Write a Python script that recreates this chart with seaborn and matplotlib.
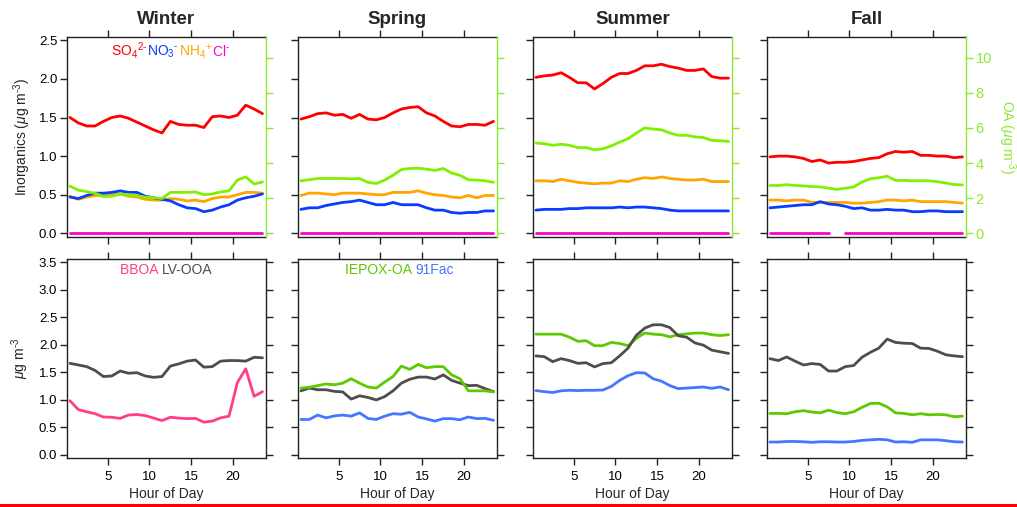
import numpy as np
import matplotlib
matplotlib.use("Agg")
import matplotlib.pyplot as plt
import seaborn as sns
from matplotlib.offsetbox import TextArea, HPacker, AnchoredOffsetbox
from matplotlib.ticker import FormatStrFormatter
from matplotlib.lines import Line2D

sns.set_style("ticks")
plt.rcParams["font.family"] = ["Liberation Sans", "DejaVu Sans"]
plt.rcParams["mathtext.fontset"] = "custom"
plt.rcParams["mathtext.rm"] = "Liberation Sans"
plt.rcParams["mathtext.it"] = "Liberation Sans:italic"
plt.rcParams["mathtext.bf"] = "Liberation Sans:bold"

hours = np.arange(0.5, 24, 1.0)
seasons = ["Winter", "Spring", "Summer", "Fall"]

# ---- inorganic species (ug m-3), left axis ----
so4_winter = [1.50, 1.43, 1.39, 1.39, 1.45, 1.50, 1.52, 1.49, 1.44, 1.39, 1.34, 1.30,
              1.45, 1.41, 1.40, 1.40, 1.37, 1.51, 1.52, 1.50, 1.53, 1.66, 1.61, 1.55]
so4_spring = [1.48, 1.51, 1.55, 1.56, 1.53, 1.54, 1.49, 1.54, 1.48, 1.47, 1.50, 1.56,
              1.61, 1.63, 1.64, 1.56, 1.52, 1.45, 1.39, 1.38, 1.41, 1.41, 1.40, 1.45]
so4_summer = [2.02, 2.04, 2.05, 2.08, 2.02, 1.95, 1.95, 1.87, 1.94, 2.02, 2.07, 2.07,
              2.11, 2.17, 2.17, 2.19, 2.16, 2.14, 2.11, 2.11, 2.13, 2.03, 2.01, 2.01]
so4_fall = [0.99, 1.00, 1.00, 0.99, 0.97, 0.93, 0.95, 0.91, 0.92, 0.92, 0.93, 0.95,
            0.97, 0.98, 1.03, 1.06, 1.05, 1.06, 1.01, 1.01, 1.00, 1.00, 0.98, 0.99]

no3_winter = [0.47, 0.45, 0.49, 0.52, 0.52, 0.53, 0.55, 0.53, 0.53, 0.48, 0.46, 0.44,
              0.42, 0.37, 0.33, 0.32, 0.28, 0.30, 0.34, 0.37, 0.43, 0.46, 0.48, 0.51]
no3_spring = [0.31, 0.33, 0.33, 0.36, 0.38, 0.40, 0.41, 0.43, 0.40, 0.37, 0.37, 0.40,
              0.37, 0.37, 0.37, 0.33, 0.30, 0.30, 0.27, 0.26, 0.27, 0.27, 0.29, 0.29]
no3_summer = [0.30, 0.31, 0.31, 0.31, 0.32, 0.32, 0.33, 0.33, 0.33, 0.33, 0.34, 0.33,
              0.34, 0.34, 0.33, 0.32, 0.30, 0.29, 0.29, 0.29, 0.29, 0.29, 0.29, 0.29]
no3_fall = [0.33, 0.34, 0.35, 0.36, 0.37, 0.37, 0.41, 0.38, 0.37, 0.35, 0.32, 0.33,
            0.30, 0.30, 0.31, 0.30, 0.30, 0.28, 0.28, 0.29, 0.29, 0.28, 0.28, 0.28]

nh4_winter = [0.48, 0.44, 0.47, 0.49, 0.49, 0.50, 0.51, 0.48, 0.47, 0.44, 0.43, 0.43,
              0.45, 0.44, 0.42, 0.43, 0.41, 0.45, 0.47, 0.47, 0.50, 0.53, 0.53, 0.52]
nh4_spring = [0.49, 0.52, 0.52, 0.51, 0.50, 0.52, 0.52, 0.52, 0.51, 0.50, 0.50, 0.53,
              0.53, 0.53, 0.55, 0.52, 0.50, 0.49, 0.47, 0.46, 0.49, 0.46, 0.49, 0.49]
nh4_summer = [0.68, 0.68, 0.67, 0.70, 0.68, 0.66, 0.65, 0.64, 0.65, 0.65, 0.68, 0.67,
              0.70, 0.72, 0.71, 0.73, 0.71, 0.70, 0.69, 0.69, 0.70, 0.67, 0.67, 0.67]
nh4_fall = [0.43, 0.43, 0.42, 0.43, 0.43, 0.40, 0.40, 0.40, 0.40, 0.40, 0.39, 0.39,
            0.40, 0.41, 0.43, 0.43, 0.42, 0.43, 0.41, 0.41, 0.41, 0.41, 0.40, 0.39]

cl_winter = [0.01] * 24
cl_spring = [0.01] * 24
cl_summer = [0.01] * 24
cl_fall = [0.01] * 8 + [np.nan] + [0.01] * 15

# ---- total organic aerosol (ug m-3), right axis ----
oa_winter = [2.68, 2.46, 2.37, 2.28, 2.09, 2.11, 2.22, 2.20, 2.15, 2.06, 2.02, 1.98,
             2.33, 2.33, 2.33, 2.35, 2.20, 2.24, 2.35, 2.42, 3.03, 3.21, 2.81, 2.92]
oa_spring = [2.99, 3.05, 3.12, 3.12, 3.12, 3.12, 3.10, 3.12, 2.90, 2.83, 3.03, 3.30,
             3.63, 3.69, 3.71, 3.65, 3.58, 3.69, 3.43, 3.30, 3.05, 3.03, 2.99, 2.90]
oa_summer = [5.14, 5.10, 5.01, 5.07, 5.01, 4.88, 4.88, 4.75, 4.81, 4.97, 5.19, 5.38,
             5.71, 6.00, 5.93, 5.89, 5.71, 5.58, 5.58, 5.49, 5.45, 5.29, 5.27, 5.23]
oa_fall = [2.72, 2.72, 2.77, 2.72, 2.70, 2.66, 2.64, 2.57, 2.50, 2.57, 2.64, 2.92,
           3.10, 3.16, 3.25, 3.01, 3.01, 2.99, 2.99, 2.99, 2.94, 2.86, 2.77, 2.75]

# ---- PMF factors (ug m-3) ----
bboa_winter = [0.98, 0.82, 0.78, 0.745, 0.685, 0.68, 0.66, 0.72, 0.73, 0.71, 0.665, 0.62,
               0.68, 0.665, 0.655, 0.66, 0.59, 0.61, 0.67, 0.70, 1.31, 1.56, 1.06, 1.145]
lvooa_winter = [1.66, 1.63, 1.60, 1.53, 1.42, 1.43, 1.52, 1.48, 1.49, 1.43, 1.405, 1.42,
                1.61, 1.65, 1.70, 1.72, 1.59, 1.60, 1.70, 1.71, 1.71, 1.70, 1.77, 1.76]
lvooa_spring = [1.16, 1.21, 1.18, 1.18, 1.15, 1.14, 1.01, 1.07, 1.04, 0.995, 1.055, 1.16,
                1.30, 1.37, 1.41, 1.41, 1.375, 1.45, 1.35, 1.30, 1.255, 1.26, 1.20, 1.145]
lvooa_summer = [1.795, 1.78, 1.69, 1.745, 1.71, 1.66, 1.67, 1.595, 1.655, 1.67, 1.795, 1.935,
                2.17, 2.30, 2.36, 2.36, 2.31, 2.16, 2.135, 2.03, 1.99, 1.90, 1.87, 1.84]
lvooa_fall = [1.745, 1.71, 1.775, 1.70, 1.63, 1.655, 1.64, 1.52, 1.52, 1.60, 1.62, 1.77,
              1.86, 1.935, 2.10, 2.04, 2.025, 2.02, 1.935, 1.93, 1.88, 1.815, 1.795, 1.78]
iepox_spring = [1.21, 1.225, 1.255, 1.285, 1.27, 1.30, 1.38, 1.30, 1.23, 1.21, 1.32, 1.42,
                1.61, 1.55, 1.64, 1.58, 1.60, 1.60, 1.45, 1.38, 1.16, 1.16, 1.16, 1.14]
iepox_summer = [2.19, 2.19, 2.19, 2.19, 2.135, 2.06, 2.07, 1.98, 1.98, 2.04, 2.02, 1.98,
                2.115, 2.21, 2.19, 2.18, 2.14, 2.18, 2.195, 2.21, 2.21, 2.18, 2.165, 2.18]
iepox_fall = [0.75, 0.75, 0.745, 0.78, 0.80, 0.775, 0.76, 0.81, 0.765, 0.745, 0.78, 0.86,
              0.93, 0.935, 0.87, 0.76, 0.75, 0.725, 0.745, 0.725, 0.73, 0.725, 0.69, 0.70]
fac91_spring = [0.64, 0.64, 0.72, 0.67, 0.705, 0.72, 0.70, 0.76, 0.66, 0.64, 0.70, 0.745,
                0.735, 0.77, 0.685, 0.65, 0.61, 0.655, 0.655, 0.635, 0.685, 0.655, 0.66, 0.625]
fac91_summer = [1.165, 1.145, 1.13, 1.16, 1.17, 1.165, 1.17, 1.17, 1.175, 1.24, 1.35, 1.435,
                1.49, 1.485, 1.38, 1.335, 1.255, 1.20, 1.21, 1.22, 1.23, 1.205, 1.23, 1.18]
fac91_fall = [0.23, 0.23, 0.24, 0.24, 0.235, 0.225, 0.235, 0.235, 0.23, 0.23, 0.24, 0.26,
              0.27, 0.28, 0.27, 0.23, 0.235, 0.225, 0.27, 0.27, 0.27, 0.255, 0.235, 0.23]

so4 = [so4_winter, so4_spring, so4_summer, so4_fall]
no3 = [no3_winter, no3_spring, no3_summer, no3_fall]
nh4 = [nh4_winter, nh4_spring, nh4_summer, nh4_fall]
cl = [cl_winter, cl_spring, cl_summer, cl_fall]
oa = [oa_winter, oa_spring, oa_summer, oa_fall]

# factor series drawn in each season (name -> values)
factors = [
    {"BBOA": bboa_winter, "LV-OOA": lvooa_winter},
    {"LV-OOA": lvooa_spring, "IEPOX-OA": iepox_spring, "91Fac": fac91_spring},
    {"IEPOX-OA": iepox_summer, "LV-OOA": lvooa_summer, "91Fac": fac91_summer},
    {"LV-OOA": lvooa_fall, "IEPOX-OA": iepox_fall, "91Fac": fac91_fall},
]

C_SO4, C_NO3, C_NH4, C_CL = "#FF0000", "#0A3CFF", "#FFA500", "#FF00CC"
C_OA, C_OA_AX = "#80F000", "#8CE830"
factor_colors = {"BBOA": "#FF3D8B", "LV-OOA": "#4D4D4D",
                 "IEPOX-OA": "#5EC800", "91Fac": "#4676FF"}

HY = "\u2010"  # short hyphen used for negative charges / exponents

LW = 2.0
W, H = 1017, 507
lefts_px = [67, 298, 533, 767]
width_px = 199
top_row = (37, 237)
bot_row = (259, 458)
XLIM = (0.15, 23.92)
TOP_YLIM = (-0.048, 2.543)
OA_SCALE = 4.394
BOT_YLIM = (-0.06, 3.555)
TICK_FS = 9.5
LABEL_FS = 10


def draw_series(ax, values, color):
    y = np.asarray(values, dtype=float)
    idx = np.flatnonzero(~np.isnan(y))
    runs = np.split(idx, np.where(np.diff(idx) > 1)[0] + 1)
    for r in runs:
        if len(r) > 1:
            sns.lineplot(x=hours[r], y=y[r], ax=ax, color=color, linewidth=LW,
                         errorbar=None, solid_joinstyle="round")


def rect(left_px, row):
    t, b = row
    return [left_px / W, 1 - b / H, width_px / W, (b - t) / H]


def style_axes(ax):
    for sp in ax.spines.values():
        sp.set_color("#222222")
        sp.set_linewidth(1.0)
    ax.tick_params(direction="out", length=5, width=1, colors="#222222",
                   labelcolor="black", labelsize=TICK_FS)
    ax.tick_params(axis="x", pad=4)
    ax.tick_params(axis="y", pad=2)
    ax.set_xlim(*XLIM)
    ax.set_xticks([5, 10, 15, 20])
    ax.set_xlabel("")
    ax.set_ylabel("")


def color_legend(ax, items, x, y):
    boxes = [TextArea(t, textprops=dict(color=c, fontsize=LABEL_FS)) for t, c in items]
    pack = HPacker(children=boxes, align="baseline", pad=0, sep=0)
    box = AnchoredOffsetbox(loc="center", child=pack, frameon=False,
                            bbox_to_anchor=(x, y), bbox_transform=ax.transAxes,
                            borderpad=0, pad=0)
    ax.add_artist(box)


fig = plt.figure(figsize=(W / 100, H / 100), dpi=100)

for i, season in enumerate(seasons):
    # ---- top row: inorganics + OA ----
    ax = fig.add_axes(rect(lefts_px[i], top_row))
    draw_series(ax, cl[i], C_CL)
    draw_series(ax, nh4[i], C_NH4)
    draw_series(ax, no3[i], C_NO3)
    draw_series(ax, so4[i], C_SO4)
    style_axes(ax)
    ax.set_ylim(*TOP_YLIM)
    ax.set_yticks(np.arange(0, 2.51, 0.5))
    ax.yaxis.set_major_formatter(FormatStrFormatter("%.1f"))
    ax.tick_params(top=True, right=False, labelbottom=False, labelleft=(i == 0))
    ax.spines["right"].set_visible(False)
    ax.set_title(season, fontsize=13.5, fontweight="bold", pad=9)

    ax2 = ax.twinx()
    draw_series(ax2, oa[i], C_OA)
    ax2.set_xlim(*XLIM)
    ax2.set_ylim(TOP_YLIM[0] * OA_SCALE, TOP_YLIM[1] * OA_SCALE)
    ax2.set_yticks(np.arange(0, 10.1, 2))
    ax2.set_ylabel("")
    for name in ("left", "top", "bottom"):
        ax2.spines[name].set_visible(False)
    ax2.spines["right"].set_color(C_OA_AX)
    ax2.spines["right"].set_linewidth(1.0)
    ax2.tick_params(axis="y", direction="out", length=5, width=1, colors=C_OA_AX,
                    labelcolor=C_OA_AX, labelsize=TICK_FS + 1, pad=2,
                    labelright=(i == 3))

    if i == 0:
        color_legend(ax, [("SO$_4$$^{2" + HY + "}$", C_SO4),
                          ("NO$_3$$^{" + HY + "}$", C_NO3),
                          ("NH$_4$$^{+}$", C_NH4),
                          ("Cl$^{" + HY + "}$", C_CL)], 0.52, 0.93)

    # ---- bottom row: PMF factors ----
    bx = fig.add_axes(rect(lefts_px[i], bot_row))
    for name, vals in factors[i].items():
        draw_series(bx, vals, factor_colors[name])
    style_axes(bx)
    bx.set_ylim(*BOT_YLIM)
    bx.set_yticks(np.arange(0, 3.51, 0.5))
    bx.yaxis.set_major_formatter(FormatStrFormatter("%.1f"))
    bx.tick_params(top=True, right=True, labelleft=(i == 0))
    bx.set_xlabel("Hour of Day", fontsize=LABEL_FS, labelpad=3)

    if i == 0:
        color_legend(bx, [("BBOA ", factor_colors["BBOA"]),
                          ("LV-OOA", factor_colors["LV-OOA"])], 0.50, 0.946)
    if i == 1:
        color_legend(bx, [("IEPOX-OA ", factor_colors["IEPOX-OA"]),
                          ("91Fac", factor_colors["91Fac"])], 0.51, 0.946)

fig.text(22 / W, 1 - 137 / H, "Inorganics ($\\mu$g m$^{" + HY + "3}$)", rotation=90,
         ha="center", va="center", fontsize=LABEL_FS)
fig.text(20 / W, 1 - 358 / H, "$\\mu$g m$^{" + HY + "3}$", rotation=90,
         ha="center", va="center", fontsize=LABEL_FS)
fig.text(1007 / W, 1 - 137 / H, "OA ($\\mu$g m$^{" + HY + "3}$)", rotation=270,
         ha="center", va="center", fontsize=LABEL_FS, color=C_OA_AX)

fig.add_artist(Line2D([0, 1], [1 - 505 / H, 1 - 505 / H], transform=fig.transFigure,
                      color="#FF0000", linewidth=2.2))

fig.savefig("out.png", dpi=100)
